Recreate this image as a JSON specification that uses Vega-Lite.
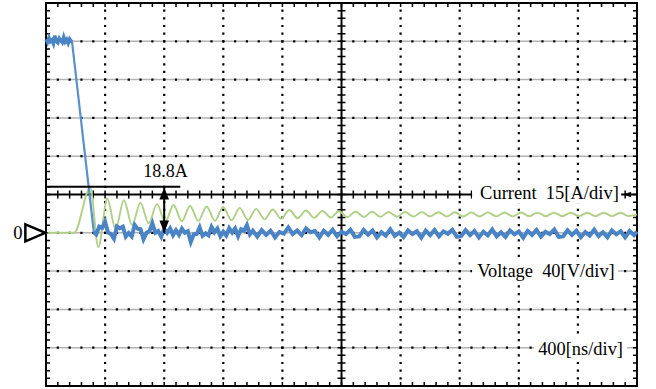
{
  "$schema": "https://vega.github.io/schema/vega-lite/v6.json",
  "width": 591,
  "height": 383,
  "autosize": {"type": "none"},
  "padding": {"left": 46, "top": 3, "right": 19, "bottom": 3},
  "background": "white",
  "config": {"view": {"stroke": "black", "strokeWidth": 2}, "text": {"font": "Liberation Serif"}},
  "datasets": {
    "hgrid": [{"i": -45}, {"i": -30}, {"i": -15}, {"i": 0}, {"i": 30}, {"i": 45}, {"i": 60}, {"i": 75}],
    "vgrid": [{"t": 400}, {"t": 800}, {"t": 1200}, {"t": 1600}, {"t": 2400}, {"t": 2800}, {"t": 3200}, {"t": 3600}],
    "current_top": [
      {"t":0,"i":75.8},{"t":10,"i":74.6},{"t":20,"i":76.4},{"t":30,"i":74.9},{"t":40,"i":75.5},{"t":50,"i":74.1},{"t":60,"i":77.2},{"t":70,"i":75.0},{"t":80,"i":74.4},{"t":90,"i":76.1},{"t":100,"i":75.2},{"t":110,"i":74.5},{"t":120,"i":76.6},{"t":130,"i":74.8},{"t":140,"i":75.7},{"t":150,"i":74.3},{"t":160,"i":75.9},{"t":170,"i":75.1},{"t":178,"i":74.8}
    ],
    "current_fall": [{"t":176,"i":75.0},{"t":324,"i":0.2}],
    "current": [
      {"t":322,"i":0.3},{"t":340,"i":-0.6},{"t":360,"i":2.4},{"t":380,"i":1.9},{"t":400,"i":4.3},{"t":420,"i":0.1},{"t":440,"i":-0.5},{"t":460,"i":-2.3},{"t":480,"i":2.5},{"t":500,"i":1.8},{"t":520,"i":2.4},{"t":540,"i":-1.5},{"t":560,"i":-0.1},{"t":580,"i":-1.4},{"t":600,"i":3.1},{"t":620,"i":1.6},{"t":640,"i":1.4},{"t":660,"i":-2.5},{"t":680,"i":0},{"t":700,"i":0.6},{"t":720,"i":3.7},{"t":740,"i":0},{"t":760,"i":0.7},{"t":780,"i":-1.5},{"t":800,"i":1.6},{"t":820,"i":0},{"t":840,"i":1.7},{"t":860,"i":-0.9},{"t":880,"i":1.0},{"t":900,"i":-0.8},{"t":920,"i":1.6},{"t":940,"i":0},{"t":960,"i":0.6},{"t":980,"i":-3.6},{"t":1000,"i":-0.6},{"t":1020,"i":-0.5},{"t":1040,"i":2.1},{"t":1060,"i":-1.2},{"t":1080,"i":-0.2},{"t":1100,"i":-1.0},{"t":1120,"i":2.3},{"t":1140,"i":0.2},{"t":1160,"i":1.7},{"t":1180,"i":-1.3},{"t":1200,"i":0.4},{"t":1220,"i":-1.1},{"t":1240,"i":1.8},{"t":1260,"i":0.1},{"t":1280,"i":1.7},{"t":1300,"i":-1.3},{"t":1320,"i":1.4},{"t":1340,"i":0.8},{"t":1360,"i":3.0},{"t":1380,"i":-0.6},{"t":1400,"i":0.8},
      {"t":1430,"i":-1.5},{"t":1460,"i":1.0},{"t":1490,"i":-0.8},{"t":1520,"i":0.8},{"t":1550,"i":-1.8},{"t":1580,"i":0.3},{"t":1610,"i":-0.3},{"t":1640,"i":2.1},{"t":1670,"i":-0.5},{"t":1700,"i":0.9},{"t":1730,"i":-0.9},{"t":1760,"i":1.7},{"t":1790,"i":0.2},{"t":1820,"i":0.7},{"t":1850,"i":-1.8},{"t":1880,"i":0.8},{"t":1910,"i":-0.8},{"t":1940,"i":1.2},{"t":1970,"i":-1.3},{"t":2000,"i":0.4},{"t":2030,"i":-0.5},{"t":2060,"i":1.2},{"t":2090,"i":-1.6},
      {"t":2120,"i":-1.4},{"t":2150,"i":1.1},{"t":2180,"i":-0.7},{"t":2210,"i":0.9},{"t":2240,"i":-1.8},{"t":2270,"i":0.2},{"t":2300,"i":-1.1},{"t":2330,"i":1.4},{"t":2360,"i":-1.2},{"t":2390,"i":0.1},{"t":2420,"i":-1.7},{"t":2450,"i":0.9},{"t":2480,"i":-0.5},{"t":2510,"i":0.6},{"t":2540,"i":-1.9},{"t":2570,"i":0.8},{"t":2600,"i":-0.9},{"t":2630,"i":1.1},{"t":2660,"i":-1.4},{"t":2690,"i":0.5},{"t":2720,"i":-0.4},{"t":2750,"i":1.2},{"t":2780,"i":-1.6},
      {"t":2810,"i":-1.3},{"t":2840,"i":1.0},{"t":2870,"i":-0.9},{"t":2900,"i":0.7},{"t":2930,"i":-1.8},{"t":2960,"i":0.4},{"t":2990,"i":-1.0},{"t":3020,"i":1.3},{"t":3050,"i":-1.4},{"t":3080,"i":0.2},{"t":3110,"i":-1.6},{"t":3140,"i":0.9},{"t":3170,"i":-0.6},{"t":3200,"i":0.5},{"t":3230,"i":-1.9},{"t":3260,"i":0.7},{"t":3290,"i":-0.8},{"t":3320,"i":1.1},{"t":3350,"i":-1.5},{"t":3380,"i":0.4},{"t":3410,"i":-0.5},{"t":3440,"i":1.3},{"t":3470,"i":-1.6},
      {"t":3500,"i":-1.4},{"t":3530,"i":1.0},{"t":3560,"i":-0.8},{"t":3590,"i":0.8},{"t":3620,"i":-1.7},{"t":3650,"i":0.3},{"t":3680,"i":-1.1},{"t":3710,"i":1.2},{"t":3740,"i":-1.3},{"t":3770,"i":0.2},{"t":3800,"i":-1.7},{"t":3830,"i":0.9},{"t":3860,"i":-0.6},{"t":3890,"i":0.6},{"t":3920,"i":-1.8},{"t":3950,"i":0.7},{"t":3980,"i":-0.9},{"t":4000,"i":0.5}
    ],
    "voltage": [
      {"t":0,"v":0},{"t":190,"v":0},{"t":300,"v":47},{"t":354,"v":-15},
      {"t":415,"v":35.5},{"t":471,"v":4},{"t":527,"v":34},{"t":583,"v":8},{"t":639,"v":31.5},{"t":695,"v":10},{"t":751,"v":30},{"t":807,"v":11.5},{"t":863,"v":29},{"t":919,"v":12},{"t":975,"v":28},{"t":1031,"v":12.5},{"t":1087,"v":27.5},{"t":1143,"v":12.5},{"t":1199,"v":27},{"t":1255,"v":13},{"t":1311,"v":26},{"t":1367,"v":13.5},
      {"t":1423,"v":25},{"t":1479,"v":14},{"t":1535,"v":24.3},{"t":1591,"v":14.7},{"t":1647,"v":23.8},{"t":1703,"v":15.2},{"t":1759,"v":23.3},{"t":1815,"v":15.6},{"t":1871,"v":22.9},{"t":1927,"v":16},{"t":1983,"v":22.5},{"t":2039,"v":16.3},{"t":2095,"v":22.2},{"t":2151,"v":16.5},{"t":2207,"v":22},{"t":2263,"v":16.7},{"t":2319,"v":21.8},{"t":2375,"v":16.8},{"t":2431,"v":21.7},{"t":2487,"v":16.9},{"t":2543,"v":21.6},{"t":2599,"v":17},{"t":2655,"v":21.5},{"t":2711,"v":17},{"t":2767,"v":21.4},{"t":2823,"v":17.1},{"t":2879,"v":21.3},{"t":2935,"v":17.1},{"t":2991,"v":21.3},{"t":3047,"v":17.2},{"t":3103,"v":21.2},{"t":3159,"v":17.2},{"t":3215,"v":21.2},{"t":3271,"v":17.3},{"t":3327,"v":21.1},{"t":3383,"v":17.3},{"t":3439,"v":21.1},{"t":3495,"v":17.3},{"t":3551,"v":21.1},{"t":3607,"v":17.4},{"t":3663,"v":21},{"t":3719,"v":17.4},{"t":3775,"v":21},{"t":3831,"v":17.4},{"t":3887,"v":21},{"t":3943,"v":17.5},{"t":4000,"v":19.2}
    ],
    "boxes": [
      {"t0": 2884, "t1": 3893, "i0": 18.9, "i1": 11.5},
      {"t0": 2884, "t1": 3872, "i0": -11.3, "i1": -19.9},
      {"t0": 3304, "t1": 3933, "i0": -40.9, "i1": -49.2},
      {"t0": 650, "t1": 965, "i0": 28.7, "i1": 20.5}
    ],
    "labels": [
      {"t": 659, "i": 22, "label": "18.8A", "size": 18},
      {"t": -221, "i": -2.35, "label": "0", "size": 18.5},
      {"t": 2938, "i": 13.3, "label": "Current\u00a0 15[A/div]", "size": 18.5},
      {"t": 2918, "i": -17.2, "label": "Voltage\u00a0 40[V/div]", "size": 18.4},
      {"t": 3331, "i": -47.9, "label": "400[ns/div]", "size": 18.4}
    ]
  },
  "resolve": {"scale": {"y": "independent"}},
  "layer": [
    {
      "data": {"name": "hgrid"},
      "mark": {"type": "rule", "color": "#b3b3b3", "strokeWidth": 1.5},
      "encoding": {"y": {"field": "i", "type": "quantitative", "scale": {"domain": [-60, 90], "nice": false, "zero": false}, "axis": null}}
    },
    {
      "data": {"name": "hgrid"},
      "mark": {"type": "rule", "color": "black", "strokeWidth": 2.2, "strokeDash": [2.2, 9.62], "strokeDashOffset": 1.1},
      "encoding": {"y": {"field": "i", "type": "quantitative", "scale": {"domain": [-60, 90], "nice": false, "zero": false}, "axis": null}}
    },
    {
      "data": {"name": "vgrid"},
      "mark": {"type": "rule", "color": "black", "strokeWidth": 2.2, "strokeDash": [2.2, 5.46], "strokeDashOffset": 1.1},
      "encoding": {"x": {"field": "t", "type": "quantitative", "scale": {"domain": [0, 4000], "nice": false, "zero": false}, "axis": null}}
    },
    {
      "data": {"values": [{"t": 2000}]},
      "mark": {"type": "rule", "color": "black", "strokeWidth": 2},
      "encoding": {"x": {"field": "t", "type": "quantitative", "axis": null}}
    },
    {
      "data": {"values": [{"t": 2000}, {"t": 0}, {"t": 4000}]},
      "mark": {"type": "rule", "color": "black", "strokeWidth": 8, "strokeDash": [1.5, 6.16], "strokeDashOffset": 0.75, "clip": true},
      "encoding": {"x": {"field": "t", "type": "quantitative", "axis": null}}
    },
    {
      "data": {"values": [{"i": 15}]},
      "mark": {"type": "rule", "color": "black", "strokeWidth": 2},
      "encoding": {"y": {"field": "i", "type": "quantitative", "scale": {"domain": [-60, 90], "nice": false, "zero": false}, "axis": null}}
    },
    {
      "data": {"values": [{"i": 15}, {"i": 90}, {"i": -60}]},
      "mark": {"type": "rule", "color": "black", "strokeWidth": 8, "strokeDash": [1.5, 10.32], "strokeDashOffset": 0.75, "clip": true},
      "encoding": {"y": {"field": "i", "type": "quantitative", "scale": {"domain": [-60, 90], "nice": false, "zero": false}, "axis": null}}
    },
    {
      "data": {"name": "voltage"},
      "mark": {"type": "line", "color": "#afd086", "strokeWidth": 1.9, "interpolate": "monotone"},
      "encoding": {
        "x": {"field": "t", "type": "quantitative", "axis": null},
        "y": {"field": "v", "type": "quantitative", "scale": {"domain": [-160, 240], "nice": false, "zero": false}, "axis": null}
      }
    },
    {
      "data": {"name": "current_fall"},
      "mark": {"type": "line", "color": "#5a90cc", "strokeWidth": 2.2},
      "encoding": {
        "x": {"field": "t", "type": "quantitative", "axis": null},
        "y": {"field": "i", "type": "quantitative", "scale": {"domain": [-60, 90], "nice": false, "zero": false}, "axis": null}
      }
    },
    {
      "data": {"name": "current_top"},
      "mark": {"type": "line", "color": "#4a84c4", "strokeWidth": 3.5, "strokeJoin": "miter"},
      "encoding": {
        "x": {"field": "t", "type": "quantitative", "axis": null},
        "y": {"field": "i", "type": "quantitative", "scale": {"domain": [-60, 90], "nice": false, "zero": false}, "axis": null}
      }
    },
    {
      "data": {"name": "current"},
      "mark": {"type": "line", "color": "#4a84c4", "strokeWidth": 4, "strokeJoin": "miter"},
      "encoding": {
        "x": {"field": "t", "type": "quantitative", "axis": null},
        "y": {"field": "i", "type": "quantitative", "scale": {"domain": [-60, 90], "nice": false, "zero": false}, "axis": null}
      }
    },
    {
      "data": {"values": [{"t0": 0, "t1": 909, "i": 18}]},
      "mark": {"type": "rule", "color": "black", "strokeWidth": 2},
      "encoding": {
        "x": {"field": "t0", "type": "quantitative", "axis": null},
        "x2": {"field": "t1"},
        "y": {"field": "i", "type": "quantitative", "scale": {"domain": [-60, 90], "nice": false, "zero": false}, "axis": null}
      }
    },
    {
      "data": {"values": [{"t": 800, "i0": 18, "i1": 0}]},
      "mark": {"type": "rule", "color": "black", "strokeWidth": 2},
      "encoding": {
        "x": {"field": "t", "type": "quantitative", "axis": null},
        "y": {"field": "i0", "type": "quantitative", "scale": {"domain": [-60, 90], "nice": false, "zero": false}, "axis": null},
        "y2": {"field": "i1"}
      }
    },
    {
      "data": {"values": [{"t": 800, "i": 15.4, "a": 0}, {"t": 800, "i": 2.5, "a": 180}]},
      "mark": {"type": "point", "shape": "M0,-1L0.8,1L-0.8,1Z", "filled": true, "color": "black", "opacity": 1, "size": 144},
      "encoding": {
        "x": {"field": "t", "type": "quantitative", "axis": null},
        "y": {"field": "i", "type": "quantitative", "scale": {"domain": [-60, 90], "nice": false, "zero": false}, "axis": null},
        "angle": {"field": "a", "type": "quantitative", "scale": null}
      }
    },
    {
      "data": {"name": "boxes"},
      "mark": {"type": "rect", "color": "white", "opacity": 1},
      "encoding": {
        "x": {"field": "t0", "type": "quantitative", "axis": null},
        "x2": {"field": "t1"},
        "y": {"field": "i0", "type": "quantitative", "scale": {"domain": [-60, 90], "nice": false, "zero": false}, "axis": null},
        "y2": {"field": "i1"}
      }
    },
    {
      "data": {"values": [{"t": 3933, "i": 15}]},
      "mark": {"type": "point", "shape": "M-1,0L1,-0.7L1,0.7Z", "filled": true, "color": "black", "opacity": 1, "size": 64},
      "encoding": {
        "x": {"field": "t", "type": "quantitative", "axis": null},
        "y": {"field": "i", "type": "quantitative", "scale": {"domain": [-60, 90], "nice": false, "zero": false}, "axis": null}
      }
    },
    {
      "data": {"values": [{"t": -72, "i": 0}]},
      "mark": {"type": "point", "shape": "M-1,-0.85L1,0L-1,0.85Z", "filled": true, "fill": "white", "stroke": "black", "strokeWidth": 2.5, "opacity": 1, "size": 400},
      "encoding": {
        "x": {"field": "t", "type": "quantitative", "axis": null},
        "y": {"field": "i", "type": "quantitative", "scale": {"domain": [-60, 90], "nice": false, "zero": false}, "axis": null}
      }
    },
    {
      "data": {"name": "labels"},
      "mark": {"type": "text", "align": "left", "baseline": "alphabetic", "color": "black", "font": "Liberation Serif"},
      "encoding": {
        "x": {"field": "t", "type": "quantitative", "axis": null},
        "y": {"field": "i", "type": "quantitative", "scale": {"domain": [-60, 90], "nice": false, "zero": false}, "axis": null},
        "text": {"field": "label", "type": "nominal"},
        "size": {"field": "size", "type": "quantitative", "scale": null}
      }
    }
  ]
}
